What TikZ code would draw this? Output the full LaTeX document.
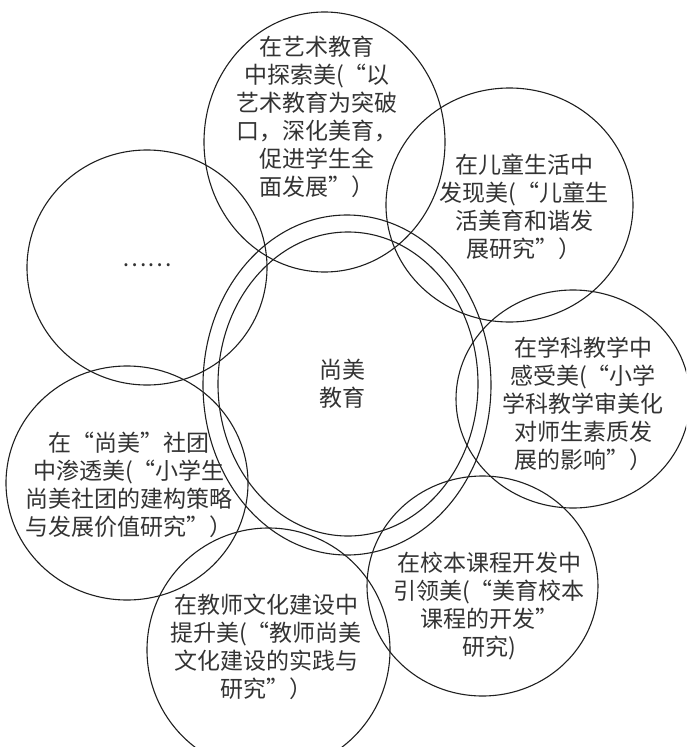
\documentclass[tikz,border=0pt]{standalone}
\usepackage{fontspec}
\setmainfont{Noto Sans CJK SC}
\begin{document}
\begin{tikzpicture}[x=1pt,y=-1pt,
  ring/.style={draw=black!88,line width=1.1pt},
  lbl/.style={align=center,inner sep=0pt,text=black!80,font=\fontsize{23pt}{28pt}\selectfont}]
\useasboundingbox (0,0) rectangle (686,747);
\clip (0,0) rectangle (686,747);
% central double ring
\draw[ring] (347,385) ellipse [x radius=144pt, y radius=170pt];
\draw[ring] (348,384) ellipse [x radius=130pt, y radius=152pt];
% outer rings
\draw[ring] (324.5,142) ellipse [x radius=120.5pt, y radius=130pt];
\draw[ring] (509.5,205) ellipse [x radius=123.5pt, y radius=117pt];
\draw[ring] (573,399) ellipse [x radius=117pt, y radius=109pt];
\draw[ring] (482.5,586) ellipse [x radius=115.5pt, y radius=110pt];
\draw[ring] (268.5,650) ellipse [x radius=121.5pt, y radius=122pt];
\draw[ring] (127,483) ellipse [x radius=121pt, y radius=117pt];
\draw[ring] (147,267.5) ellipse [x radius=120pt, y radius=117.5pt];
% labels
\node[lbl] (core) at (342,384) {尚美\\教育};
\node[lbl] (art) at (317,116.5) {在艺术教育\\中探索美(“以\\艺术教育为突破\\口，深化美育，\\促进学生全\\面发展”）};
\node[lbl] (child) at (524,206.5) {在儿童生活中\\发现美(“儿童生\\活美育和谐发\\展研究”）};
\node[lbl] (subj) at (583,404) {在学科教学中\\感受美(“小学\\学科教学审美化\\对师生素质发\\展的影响”）};
\node[lbl] (school) at (489,606.5) {在校本课程开发中\\引领美(“美育校本\\课程的开发”\\研究)};
\node[lbl] (teach) at (266,647) {在教师文化建设中\\提升美(“教师尚美\\文化建设的实践与\\研究”）};
\node[lbl] (club) at (129,484.5) {在“尚美”社团\\中渗透美(“小学生\\尚美社团的建构策略\\与发展价值研究”）};
\node[lbl] (more) at (147,265) {……};
\end{tikzpicture}
\end{document}
